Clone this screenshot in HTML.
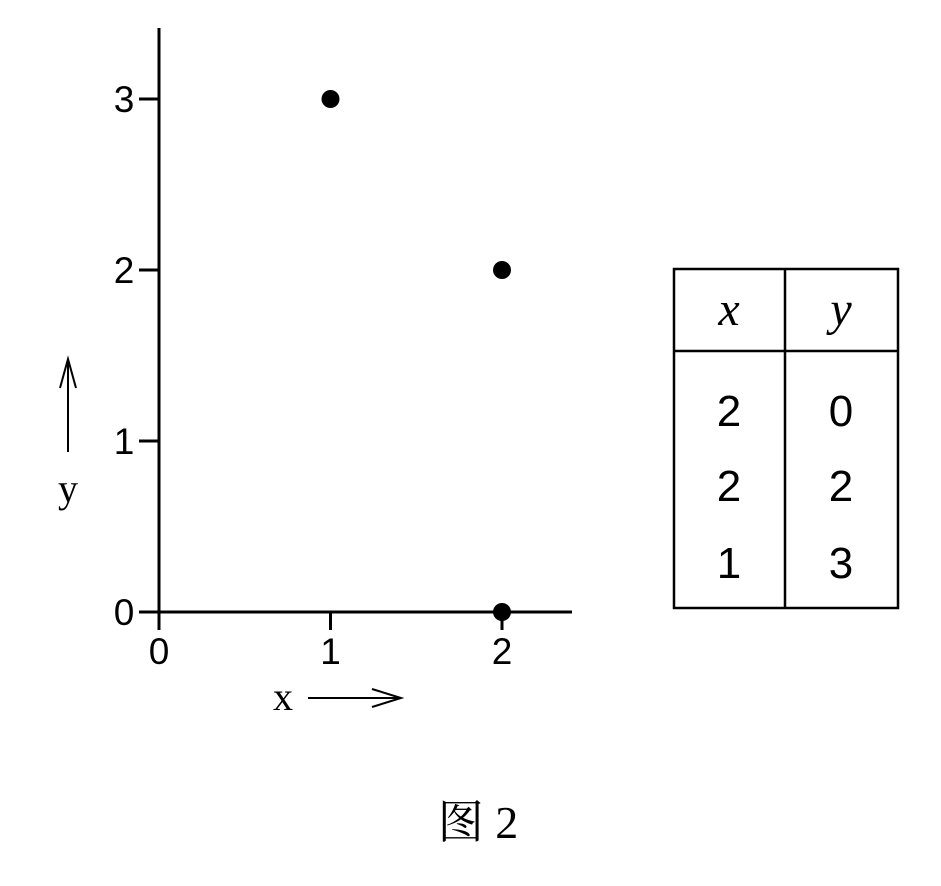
<!DOCTYPE html>
<html><head><meta charset="utf-8"><style>
html,body{margin:0;padding:0;background:#fff;width:941px;height:886px;overflow:hidden}
</style></head><body>
<svg width="941" height="886" viewBox="0 0 941 886" xmlns="http://www.w3.org/2000/svg">
<g id="axes" stroke="#000" stroke-width="3" fill="none">
<line x1="159" y1="28" x2="159" y2="630"/>
<line x1="159" y1="612" x2="572" y2="612"/>
</g>
<g id="ticks"></g>
<g id="points"></g>
<g>
<text x="283" y="710" font-family="Liberation Serif, serif" font-size="40" text-anchor="middle">x</text>
<line x1="308" y1="698" x2="400" y2="698" stroke="#000" stroke-width="2"/>
<polyline points="372,689 401,698 372,707" fill="none" stroke="#000" stroke-width="2"/>
</g>
<g>
<text x="68" y="502" font-family="Liberation Serif, serif" font-size="40" text-anchor="middle">y</text>
<line x1="68" y1="452" x2="68" y2="360" stroke="#000" stroke-width="2"/>
<polyline points="60,388 68,359 76,388" fill="none" stroke="#000" stroke-width="2"/>
</g>
<g font-size="44" text-anchor="middle">
<rect x="674" y="269" width="224" height="339" fill="none" stroke="#000" stroke-width="2.5"/>
<line x1="785" y1="269" x2="785" y2="608" stroke="#000" stroke-width="2.5"/>
<line x1="674" y1="351" x2="898" y2="351" stroke="#000" stroke-width="2.5"/>
<text x="729" y="325" font-family="Liberation Serif, serif" font-style="italic" font-size="48">x</text>
<text x="841" y="325" font-family="Liberation Serif, serif" font-style="italic" font-size="48">y</text>
<g id="rows" font-family="Liberation Sans, sans-serif"></g>
</g>
<text x="478" y="838" font-family="Liberation Serif, 'Noto Serif CJK SC', serif" font-size="46" text-anchor="middle">图 2</text>
</svg>
<script>
const xs=[2,2,1];
const ys=[0,2,3];
const xTicks=[0,1,2];
const yTicks=[0,1,2,3];
const NS="http://www.w3.org/2000/svg";
function sx(v){return 159+v*171.5;}
function sy(v){return 612-v*171;}
function mk(t,a,p){const e=document.createElementNS(NS,t);for(const k in a)e.setAttribute(k,a[k]);p.appendChild(e);return e;}
const tg=document.getElementById('ticks');
xTicks.forEach(v=>{
 if(v>0){const l=mk('line',{x1:sx(v),y1:612,x2:sx(v),y2:630,stroke:'#000','stroke-width':3},tg);
 
 }
 const t=mk('text',{x:sx(v),y:664,'font-family':'Liberation Sans, sans-serif','font-size':37,'text-anchor':'middle'},tg);
 t.textContent=v;
 
 
});
yTicks.forEach(v=>{
 const l=mk('line',{x1:139,y1:sy(v),x2:159,y2:sy(v),stroke:'#000','stroke-width':3},tg);
 
 
 const t=mk('text',{x:124,y:sy(v)+13,'font-family':'Liberation Sans, sans-serif','font-size':37,'text-anchor':'middle'},tg);
 t.textContent=v;
 
 
});
const pg=document.getElementById('points');
xs.forEach((x,i)=>{
 const c=mk('circle',{cx:sx(x),cy:sy(ys[i]),r:9,fill:'#000'},pg);
 
 
});
const rg=document.getElementById('rows');
const rowY=[426,501,578];
xs.forEach((x,i)=>{
 const a=mk('text',{x:729,y:rowY[i]},rg);a.textContent=x;
 
 
 const b=mk('text',{x:841,y:rowY[i]},rg);b.textContent=ys[i];
 
 
});
</script>
</body></html>
